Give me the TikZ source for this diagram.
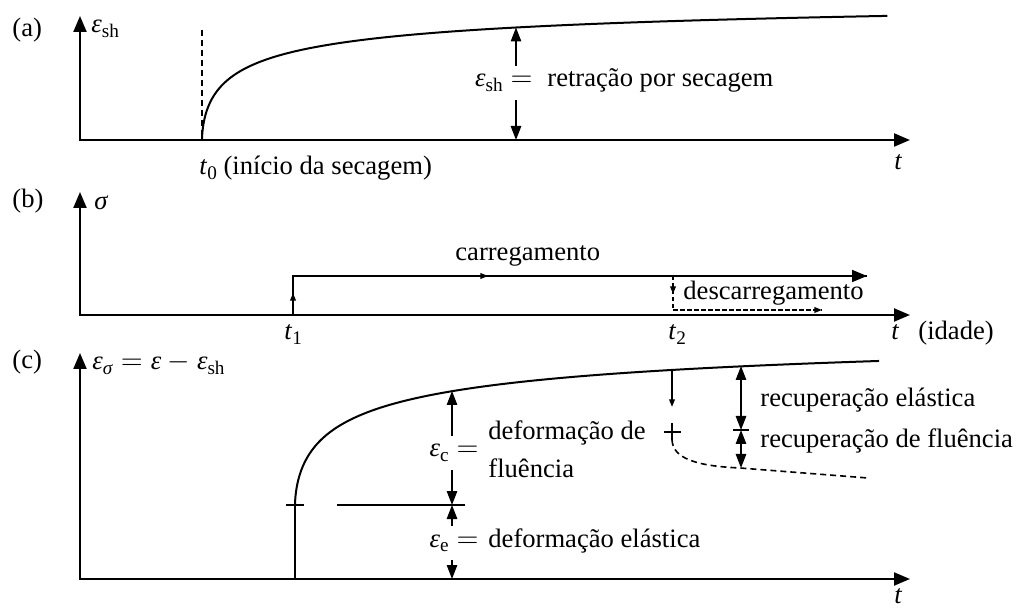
\documentclass[tikz,border=0pt]{standalone}
\usepackage{fontspec}
\setmainfont{Liberation Serif}
\usetikzlibrary{arrows.meta}
\newcommand{\mysub}[1]{\raisebox{-2.2pt}{\fontsize{9.6}{10}\selectfont #1}}
\newcommand{\myeps}{\textit{ε}}
\newcommand{\myeq}{\hspace{0.3em}$=$\hspace{0.3em}}
\newcommand{\mymin}{\hspace{0.25em}$-$\hspace{0.25em}}
\begin{document}
\begin{tikzpicture}[x=0.5pt,y=-0.5pt,
  every node/.style={font=\fontsize{13.3}{15}\selectfont, inner sep=0pt},
  axis/.style={line width=1.1pt,{Triangle[length=8pt,width=6.5pt]}-{Triangle[length=8pt,width=6.5pt]}},
  curve/.style={line width=1pt},
  dim/.style={line width=0.8pt,{Triangle[length=7pt,width=5.2pt]}-{Triangle[length=7pt,width=5.2pt]}},
  thinline/.style={line width=0.8pt},
  load/.style={line width=0.9pt},
  tipsmall/.style={-{Triangle[length=3.8pt,width=2.8pt]}},
  tipbig/.style={-{Triangle[length=7.5pt,width=6pt]}},
  lbl/.style={fill=white, inner xsep=1pt, inner ysep=4pt},
  dotl/.style={line width=0.8pt, dash pattern=on 2pt off 1.5pt},
  dashl/.style={line width=0.8pt, dash pattern=on 3pt off 2pt}]
\useasboundingbox (0,0) rectangle (1016,608);

% ---------------- (a)
\node[anchor=base west] (pa) at (12,37) {(a)};
\coordinate (Ya) at (80,16);
\coordinate (Oa) at (80,140);
\coordinate (Xa) at (910,140);
\draw[axis] (Ya) -- (Oa) -- (Xa);
\node[anchor=base west] (ysa) at (91,33) {\myeps\mysub{sh}};
\node[anchor=base west] (ta) at (894,170) {\textit{t}};
\coordinate (t0top) at (202,30);
\coordinate (t0) at (202,140);
\draw[dashl] (t0top) -- (t0);
\draw[curve] (t0) -- plot[domain=0.01:50.3, samples=140, variable=\s] ({202+(\s)^(1.66667)}, {140-150*\s/(10.5+\s)});
\node[anchor=base west] (t0lbl) at (199,175) {\textit{t}\mysub{0} (início da secagem)};
\coordinate (sha) at (516,27.5);
\coordinate (shb) at (516,140);
\draw[dim] (sha) -- (shb);
\node[lbl, anchor=base east] (shl) at (535,87) {\myeps\mysub{sh}\myeq};
\node[anchor=base west] (shtxt) at (547,87) {retração por secagem};

% ---------------- (b)
\node[anchor=base west] (pb) at (12,208) {(b)};
\coordinate (Yb) at (80,192);
\coordinate (Ob) at (80,315);
\coordinate (Xb) at (910,315);
\draw[axis] (Yb) -- (Ob) -- (Xb);
\node[anchor=base west] (sig) at (94,210) {\textit{σ}};
\coordinate (L0) at (293,315);
\coordinate (Lm) at (293,293);
\coordinate (L1) at (293,276);
\coordinate (Lh) at (488,276);
\coordinate (L2) at (867,276);
\draw[load] (L0) -- (L1) -- (L2);
\draw[load, tipsmall] (L0) -- (Lm);
\draw[load, tipsmall] (L1) -- (Lh);
\draw[load, tipbig] (Lh) -- (L2);
\node[anchor=base west] (carr) at (455,261) {carregamento};
\coordinate (U0) at (673,276);
\coordinate (Um) at (673,294);
\coordinate (U1) at (673,310);
\coordinate (U2) at (822,310);
\draw[dotl] (U0) -- (U1) -- (U2);
\draw[dotl, tipsmall] (U0) -- (Um);
\draw[dotl, tipsmall] (U1) -- (U2);
\node[anchor=base west] (desc) at (683,300) {descarregamento};
\node[anchor=base west] (t1) at (284,340) {\textit{t}\mysub{1}};
\node[anchor=base west] (t2) at (668,340) {\textit{t}\mysub{2}};
\node[anchor=base west] (tb) at (891,340) {\textit{t}};
\node[anchor=base west] (idade) at (918,340) {(idade)};

% ---------------- (c)
\node[anchor=base west] (pc) at (12,369) {(c)};
\coordinate (Yc) at (80,353);
\coordinate (Oc) at (80,579);
\coordinate (Xc) at (910,579);
\draw[axis] (Yc) -- (Oc) -- (Xc);
\node[anchor=base west] (ysc) at (92,370) {\myeps\mysub{\textit{σ}}\myeq\myeps\mymin\myeps\mysub{sh}};
\node[anchor=base west] (tc) at (894,603) {\textit{t}};
\coordinate (E0) at (295,579);
\coordinate (E1) at (295,505);
\draw[thinline] (E0) -- (E1);
\draw[thinline] (286,505) -- (304,505);
\draw[curve] (E1) -- plot[domain=0.01:45.7, samples=140, variable=\s] ({295+(\s)^(1.66667)}, {505-185*\s/(13+\s)});
\coordinate (EL0) at (337,505);
\coordinate (EL1) at (465,505);
\draw[thinline] (EL0) -- (EL1);
\coordinate (C0) at (452,391);
\coordinate (C1) at (452,505);
\coordinate (C2) at (452,579);
\draw[dim] (C0) -- (C1);
\draw[dim] (C1) -- (C2);
\node[lbl, anchor=base] (ecl) at (454,457) {\myeps\mysub{c}\myeq};
\node[anchor=base west] (df1) at (488,440) {deformação de};
\node[anchor=base west] (df2) at (488,477) {fluência};
\node[lbl, anchor=base] (eel) at (454,547) {\myeps\mysub{e}\myeq};
\node[anchor=base west] (de) at (488,547) {deformação elástica};
% recovery
\coordinate (R0) at (672,370);
\coordinate (R1) at (672,407);
\draw[thinline, tipsmall] (R0) -- (R1);
\coordinate (R2) at (672,423);
\coordinate (R3) at (672,440);
\draw[thinline] (R2) -- (R3);
\draw[thinline] (664,432) -- (681,432);
\coordinate (R4) at (740,468);
\coordinate (R5) at (868,478);
\draw[dashl] (R3) .. controls (673,458) and (695,466) .. (R4) -- (R5);
\coordinate (Q0) at (741,366);
\coordinate (Q1) at (741,430);
\coordinate (Q2) at (741,468);
\draw[dim] (Q0) -- (Q1);
\draw[dim] (Q1) -- (Q2);
\draw[thinline] (733,430) -- (749,430);
\node[anchor=base west] (rel) at (760,407) {recuperação elástica};
\node[anchor=base west] (rfl) at (760,448) {recuperação de fluência};
\end{tikzpicture}
\end{document}
